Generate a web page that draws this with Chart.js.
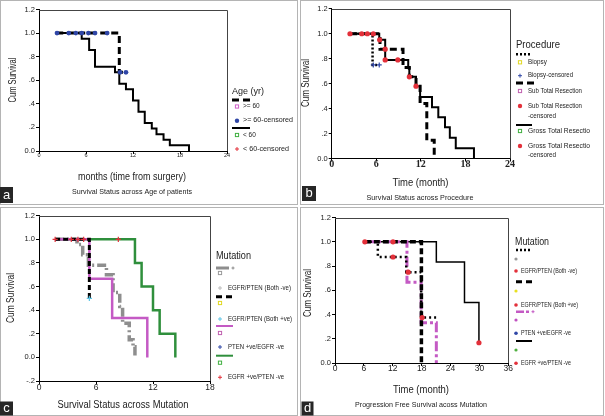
<!DOCTYPE html>
<html>
<head>
<meta charset="utf-8">
<script src="https://cdn.jsdelivr.net/npm/chart.js@4.4.1/dist/chart.umd.min.js"></script>
<style>
  body { margin: 0; background: #fff; width: 605px; height: 416px; position: relative; overflow: hidden; }
  canvas { position: absolute; }
  .frame { position: absolute; border: 1px solid #b4b4b4; box-sizing: border-box; }
</style>
</head>
<body>
<div class="frame" style="left:0;top:0;width:298px;height:205px"></div>
<div class="frame" style="left:300px;top:0;width:304px;height:205px"></div>
<div class="frame" style="left:0;top:207px;width:298px;height:209px"></div>
<div class="frame" style="left:300px;top:207px;width:304px;height:209px"></div>
<canvas id="panelA" width="300" height="206" style="left:0;top:0"></canvas>
<canvas id="panelB" width="305" height="206" style="left:300px;top:0"></canvas>
<canvas id="panelC" width="300" height="210" style="left:0;top:206px"></canvas>
<canvas id="panelD" width="305" height="210" style="left:300px;top:206px"></canvas>
<script>
// a: survival by age
const ageOldTime = [2.2, 10.25, 11.1];
const ageOldSurv = [1, 0.667, 0.667];
const ageOldCensTime = [2.3, 3.8, 4.7, 5.45, 6.3, 7.15, 8.7, 10.35, 11.1];
const ageOldCensSurv = [1, 1, 1, 1, 1, 1, 1, 0.667, 0.667];
const ageYoungTime = [2.2, 5.45, 6.4, 7.15, 9.7, 10.25, 11.1, 12.0, 12.7, 13.5, 14.4, 15.0, 15.9, 16.7, 19.15];
const ageYoungSurv = [1, 0.952, 0.857, 0.714, 0.667, 0.571, 0.524, 0.429, 0.333, 0.238, 0.19, 0.143, 0.095, 0.048, 0];
const ageLabels = ['>= 60', '>= 60-censored', '< 60', '< 60-censored'];

// b: survival by procedure
const biopsyTime = [2.5, 5.5, 6.4];
const biopsySurv = [1, 0.75, 0.75];
const biopsyCensTime = [5.6, 6.4];
const biopsyCensSurv = [0.75, 0.75];
const strTime = [2.5, 6.5, 9.6, 10.45, 11.35, 11.9, 12.8, 13.8];
const strSurv = [1, 0.876, 0.73, 0.655, 0.58, 0.44, 0.146, 0];
const gtrTime = [2.5, 6.4, 7.2, 10.3, 10.45, 11.35, 11.9, 13.5, 14.35, 15.25, 15.9, 16.7, 19.15];
const gtrSurv = [1, 0.951, 0.79, 0.728, 0.655, 0.58, 0.493, 0.41, 0.33, 0.25, 0.167, 0.083, 0];
const resCensTime = [2.46, 4.04, 4.8, 5.6, 6.45, 7.2, 7.2, 8.9, 10.45, 11.35];
const resCensSurv = [1, 1, 1, 1, 0.951, 0.876, 0.79, 0.79, 0.655, 0.58];
const procLabels = ['Biopsy', 'Biopsy-censored', 'Sub Total Resection', 'Sub Total Resection', '-censored',
                    'Gross Total Resectio', 'Gross Total Resectio', '-censored'];

// c: survival by mutation
const bothNegTime = [1.7, 4.0, 4.6, 5.2, 7.1, 7.8, 8.5, 8.8, 9.5, 9.9, 10.1];
const bothNegSurv = [1, 0.957, 0.87, 0.78, 0.70, 0.55, 0.43, 0.29, 0.15, 0.09, 0];
const bothPosTime = [1.7, 5.3];
const bothPosSurv = [1, 0.5];
const ptenTime = [1.7, 5.3, 7.7, 11.4];
const ptenSurv = [1, 0.667, 0.333, 0];
const egfrTime = [1.7, 10.1, 10.8, 12.0, 12.7, 14.35];
const egfrSurv = [1, 0.8, 0.6, 0.4, 0.2, 0];
const egfrCensTime = [1.7, 3.4, 4.1, 4.7, 8.35];
const egfrCensSurv = [1, 1, 1, 1, 1];
const mutLabels = ['EGFR/PTEN (Both -ve)', 'EGFR/PTEN (Both +ve)', 'PTEN +ve/EGFR -ve', 'EGFR +ve/PTEN -ve'];

// d: progression free survival by mutation
const pfsNegTime = [6.2, 8.9, 14.8, 17.9, 21.2];
const pfsNegSurv = [1, 0.875, 0.75, 0.375, 0.375];
const pfsPosTime = [6.2, 17.95];
const pfsPosSurv = [1, 0];
const pfsPtenTime = [6.2, 14.95, 17.9, 21.05];
const pfsPtenSurv = [1, 0.667, 0.333, 0];
const pfsEgfrTime = [6.2, 21.05, 26.9, 29.9];
const pfsEgfrSurv = [1, 0.833, 0.5, 0.167];
const pfsCensTime = [6.2, 12.05, 12.05, 15.2, 18.1, 29.9];
const pfsCensSurv = [1, 1, 0.875, 0.75, 0.375, 0.167];

const FONT = "'Liberation Sans', Arial, sans-serif";
const pink = '#c45ac4', green = '#2f8f3c', red = '#e3303a', blue = '#2f46a6';

function pts(times, surv) {
  return times.map((t, i) => ({ x: t, y: surv[i] }));
}

function stepLine(times, surv, color, width, dash) {
  return {
    data: pts(times, surv), borderColor: color, borderWidth: width, borderDash: dash || [],
    stepped: true, pointRadius: 0, fill: false, borderCapStyle: 'butt'
  };
}

function marks(times, surv, color, style, r) {
  return {
    type: 'scatter', data: pts(times, surv), showLine: false, pointStyle: style, pointRadius: r,
    backgroundColor: color, borderColor: color, borderWidth: style === 'cross' ? 1.2 : 0
  };
}

function survTick(v) {
  if (Math.abs(v) < 1e-9) return '0.0';
  const s = v.toFixed(1);
  return Math.abs(v) < 1 ? s.replace('0.', '.') : s;
}

function drawText(ctx, t) {
  ctx.save();
  ctx.font = (t.bold ? 'bold ' : '') + t.size + 'px ' + FONT;
  ctx.fillStyle = t.color || '#222';
  ctx.textBaseline = 'middle';
  ctx.textAlign = t.align || 'left';
  ctx.translate(t.x, t.y);
  if (t.rot) ctx.rotate(t.rot);
  if (t.w) ctx.scale(t.w / ctx.measureText(t.text).width, 1);
  ctx.fillText(t.text, 0, 0);
  ctx.restore();
}

function drawMark(ctx, m) {
  const r = m.r || 2;
  ctx.save();
  ctx.strokeStyle = m.color; ctx.fillStyle = m.color; ctx.lineWidth = 1;
  ctx.beginPath();
  if (m.shape === 'box') ctx.strokeRect(m.x - r, m.y - r, 2 * r, 2 * r);
  else if (m.shape === 'dot') { ctx.arc(m.x, m.y, r, 0, Math.PI * 2); ctx.fill(); }
  else { ctx.moveTo(m.x - r, m.y); ctx.lineTo(m.x + r, m.y); ctx.moveTo(m.x, m.y - r); ctx.lineTo(m.x, m.y + r); ctx.stroke(); }
  ctx.restore();
}

const decor = {
  id: 'decor',
  afterDraw(chart, args, o) {
    const ctx = chart.ctx, a = chart.chartArea;
    ctx.save();
    ctx.strokeStyle = '#444'; ctx.lineWidth = 1;
    ctx.beginPath();
    ctx.moveTo(a.left, Math.round(a.top) + 0.5);
    ctx.lineTo(Math.round(a.right) + 0.5, Math.round(a.top) + 0.5);
    ctx.lineTo(Math.round(a.right) + 0.5, a.bottom);
    ctx.stroke();
    (o.lines || []).forEach(l => {
      ctx.strokeStyle = l.color || '#000'; ctx.lineWidth = l.width; ctx.setLineDash(l.dash || []);
      ctx.beginPath(); ctx.moveTo(l.x1, l.y); ctx.lineTo(l.x2, l.y); ctx.stroke();
    });
    ctx.setLineDash([]);
    (o.marks || []).forEach(m => drawMark(ctx, m));
    (o.texts || []).forEach(t => drawText(ctx, t));
    if (o.tag) {
      ctx.fillStyle = '#262626';
      ctx.fillRect(o.tag.x, o.tag.y, o.tag.w, o.tag.h);
      drawText(ctx, { text: o.tag.text, x: o.tag.x + o.tag.w / 2, y: o.tag.y + o.tag.h / 2, size: 13, align: 'center', color: '#fff' });
    }
    ctx.restore();
  }
};

function kmChart(id, datasets, xMax, yMin, box, decorOpts) {
  return new Chart(document.getElementById(id), {
    type: 'line',
    data: { datasets: datasets },
    options: {
      responsive: false, animation: false, devicePixelRatio: 1,
      layout: { padding: { left: 0, top: box.top, right: box.right, bottom: 0 } },
      plugins: { legend: { display: false }, tooltip: { enabled: false }, decor: decorOpts },
      scales: {
        x: {
          type: 'linear', min: 0, max: xMax,
          afterFit: s => { s.height = box.xh; },
          grid: { drawOnChartArea: false, tickLength: 3, color: '#000' },
          border: { color: '#000' },
          ticks: { stepSize: 6, autoSkip: false, maxRotation: 0, color: '#222', padding: box.xpad,
                   font: Object.assign({ family: FONT, lineHeight: 1 }, box.xfont) }
        },
        y: {
          min: yMin, max: 1.2,
          afterFit: s => { s.width = box.yw; },
          grid: { drawOnChartArea: false, tickLength: 3, color: '#000' },
          border: { color: '#000' },
          ticks: { stepSize: 0.2, callback: survTick, color: '#222', padding: 1,
                   font: { family: FONT, size: 7.5, lineHeight: 1 } }
        }
      }
    },
    plugins: [decor]
  });
}

const rot = -Math.PI / 2;

// panel a
kmChart('panelA', [
  marks(ageOldCensTime, ageOldCensSurv, blue, 'circle', 2.4),
  stepLine(ageOldTime, ageOldSurv, '#000', 3, [7, 4]),
  stepLine(ageYoungTime, ageYoungSurv, '#000', 2)
], 24, 0, { top: 9.5, right: 73, yw: 39, xh: 55, xpad: -1, xfont: { size: 5.5 } }, {
  lines: [
    { x1: 232, x2: 251, y: 100, width: 3, dash: [7, 4] },
    { x1: 232, x2: 250, y: 128, width: 2 }
  ],
  marks: [
    { shape: 'box', color: '#d060c8', x: 237, y: 106.5, r: 1.6 },
    { shape: 'dot', color: blue, x: 237, y: 120.7, r: 2.2 },
    { shape: 'box', color: '#40b040', x: 237, y: 135, r: 1.6 },
    { shape: 'plus', color: red, x: 237, y: 149, r: 2 }
  ],
  texts: [
    { text: 'Cum Survival', x: 13.5, y: 80, size: 10, rot: rot, align: 'center', w: 45 },
    { text: 'months (time from surgery)', x: 132, y: 177, size: 10.5, align: 'center', w: 108 },
    { text: 'Survival Status across Age of patients', x: 132, y: 192, size: 7, align: 'center', w: 120 },
    { text: 'Age (yr)', x: 232, y: 91, size: 9.5, w: 32 },
    { text: ageLabels[0], x: 243, y: 106.5, size: 6.5 },
    { text: ageLabels[1], x: 243, y: 120.7, size: 6.5, w: 50 },
    { text: ageLabels[2], x: 243, y: 135, size: 6.5 },
    { text: ageLabels[3], x: 243, y: 149, size: 6.5, w: 46 }
  ],
  tag: { text: 'a', x: 0, y: 187, w: 13, h: 16 }
});

// panel b
kmChart('panelB', [
  marks(resCensTime, resCensSurv, red, 'circle', 2.6),
  marks(biopsyCensTime, biopsyCensSurv, blue, 'cross', 2.5),
  stepLine(biopsyTime, biopsySurv, '#000', 2.5, [2, 2]),
  stepLine(strTime, strSurv, '#000', 3, [7, 4]),
  stepLine(gtrTime, gtrSurv, '#000', 2)
], 24, 0, { top: 8.8, right: 95, yw: 31.7, xh: 47.5, xpad: -2, xfont: { size: 10, weight: 'bold', family: "'Liberation Serif', serif" } }, {
  lines: [
    { x1: 216, x2: 232, y: 54.3, width: 2.5, dash: [2, 2] },
    { x1: 216, x2: 234, y: 83, width: 3, dash: [7, 4] },
    { x1: 216, x2: 232, y: 125, width: 2 }
  ],
  marks: [
    { shape: 'box', color: '#e0d820', x: 220, y: 62.3, r: 1.6 },
    { shape: 'plus', color: blue, x: 220, y: 75.7, r: 2 },
    { shape: 'box', color: '#c060b0', x: 220, y: 91, r: 1.6 },
    { shape: 'dot', color: red, x: 220, y: 106, r: 2.2 },
    { shape: 'box', color: '#40b040', x: 220, y: 131, r: 1.6 },
    { shape: 'dot', color: red, x: 220, y: 146, r: 2.2 }
  ],
  texts: [
    { text: 'Cum Survival', x: 6, y: 83, size: 10, rot: rot, align: 'center', w: 48 },
    { text: 'Time (month)', x: 120.5, y: 183.3, size: 10.5, align: 'center', w: 56 },
    { text: 'Survival Status across Procedure', x: 120, y: 198.3, size: 7, align: 'center', w: 107 },
    { text: 'Procedure', x: 216, y: 45, size: 10, w: 44 },
    { text: procLabels[0], x: 228, y: 62.3, size: 6.3 },
    { text: procLabels[1], x: 228, y: 75.7, size: 6.3, w: 45 },
    { text: procLabels[2], x: 228, y: 91, size: 6.3, w: 54 },
    { text: procLabels[3], x: 228, y: 106, size: 6.3, w: 54 },
    { text: procLabels[4], x: 228, y: 116, size: 6.3 },
    { text: procLabels[5], x: 228, y: 131, size: 6.3, w: 62 },
    { text: procLabels[6], x: 228, y: 146, size: 6.3, w: 62 },
    { text: procLabels[7], x: 228, y: 155.5, size: 6.3 }
  ],
  tag: { text: 'b', x: 2, y: 186, w: 14, h: 15 }
});

// panel c
kmChart('panelC', [
  marks(egfrCensTime, egfrCensSurv, red, 'cross', 2.6),
  marks([5.3], [0.5], '#5cc4e6', 'cross', 2.6),
  stepLine(bothPosTime, bothPosSurv, '#000', 3, [5, 3]),
  stepLine(ptenTime, ptenSurv, pink, 2.5),
  stepLine(bothNegTime, bothNegSurv, '#8e8e8e', 3.5, [9, 3, 2, 3]),
  stepLine(egfrTime, egfrSurv, green, 2.5)
], 18, -0.2, { top: 9.7, right: 90, yw: 39, xh: 35, xpad: -0.5, xfont: { size: 8.5 } }, {
  lines: [
    { x1: 216, x2: 229, y: 62, width: 3, color: '#8e8e8e' },
    { x1: 216, x2: 234, y: 90.7, width: 3, dash: [6, 4] },
    { x1: 216, x2: 233, y: 120, width: 2, color: pink },
    { x1: 216, x2: 233, y: 149.7, width: 2, color: green }
  ],
  marks: [
    { shape: 'plus', color: '#888', x: 233, y: 62, r: 1.5 },
    { shape: 'box', color: '#999', x: 220, y: 67, r: 1.6 },
    { shape: 'plus', color: '#bbb', x: 220, y: 82, r: 2 },
    { shape: 'box', color: '#e0d820', x: 220, y: 97, r: 1.6 },
    { shape: 'plus', color: '#5cc4e6', x: 220, y: 113, r: 2 },
    { shape: 'box', color: '#c060b0', x: 220, y: 127, r: 1.6 },
    { shape: 'plus', color: blue, x: 220, y: 141, r: 2 },
    { shape: 'box', color: '#40b040', x: 220, y: 156.7, r: 1.6 },
    { shape: 'plus', color: red, x: 220, y: 171.3, r: 2 }
  ],
  texts: [
    { text: 'Cum Survival', x: 11, y: 92, size: 10, rot: rot, align: 'center', w: 50 },
    { text: 'Survival Status across Mutation', x: 123, y: 199, size: 10, align: 'center', w: 131 },
    { text: 'Mutation', x: 216, y: 50.7, size: 10, w: 35 },
    { text: mutLabels[0], x: 228, y: 82, size: 6.3, w: 63 },
    { text: mutLabels[1], x: 228, y: 113, size: 6.3, w: 64 },
    { text: mutLabels[2], x: 228, y: 141, size: 6.3, w: 56 },
    { text: mutLabels[3], x: 228, y: 171.3, size: 6.3, w: 56 }
  ],
  tag: { text: 'c', x: 0, y: 195.5, w: 13, h: 14 }
});

// panel d
kmChart('panelD', [
  marks(pfsCensTime, pfsCensSurv, red, 'circle', 2.6),
  stepLine(pfsNegTime, pfsNegSurv, '#000', 2.5, [2, 3]),
  stepLine(pfsPosTime, pfsPosSurv, '#000', 3.5, [6, 3]),
  stepLine(pfsPtenTime, pfsPtenSurv, pink, 3, [10, 3, 3, 3]),
  stepLine(pfsEgfrTime, pfsEgfrSurv, '#000', 1.5)
], 36, 0, { top: 11.6, right: 96.7, yw: 35, xh: 53, xpad: -2, xfont: { size: 8.5 } }, {
  lines: [
    { x1: 216, x2: 232, y: 44, width: 2.5, dash: [2, 2] },
    { x1: 216, x2: 234, y: 75.7, width: 3, dash: [6, 4] },
    { x1: 216, x2: 229, y: 105.7, width: 2.5, color: pink, dash: [8, 2] },
    { x1: 216, x2: 232, y: 135, width: 2 }
  ],
  marks: [
    { shape: 'plus', color: pink, x: 233, y: 105.7, r: 1.5 },
    { shape: 'dot', color: '#999', x: 216, y: 53, r: 1.6 },
    { shape: 'dot', color: red, x: 216, y: 65, r: 1.8 },
    { shape: 'dot', color: '#e8e020', x: 216, y: 85, r: 1.6 },
    { shape: 'dot', color: red, x: 216, y: 99, r: 1.8 },
    { shape: 'dot', color: '#c050c0', x: 216, y: 114, r: 1.6 },
    { shape: 'dot', color: blue, x: 216, y: 127.3, r: 1.8 },
    { shape: 'dot', color: '#50b040', x: 216, y: 144, r: 1.6 },
    { shape: 'dot', color: red, x: 216, y: 157.3, r: 1.8 }
  ],
  texts: [
    { text: 'Cum Survival', x: 8, y: 87, size: 10, rot: rot, align: 'center', w: 48 },
    { text: 'Time (month)', x: 121, y: 184, size: 10.5, align: 'center', w: 56 },
    { text: 'Progression Free Survival acoss Mutation', x: 121, y: 199, size: 7, align: 'center', w: 132 },
    { text: 'Mutation', x: 215, y: 36.3, size: 10, w: 34 },
    { text: mutLabels[0], x: 221, y: 65, size: 6.3, w: 56 },
    { text: mutLabels[1], x: 221, y: 99, size: 6.3, w: 57 },
    { text: mutLabels[2], x: 221, y: 127.3, size: 6.3, w: 50 },
    { text: mutLabels[3], x: 221, y: 157.3, size: 6.3, w: 50 }
  ],
  tag: { text: 'd', x: 1.5, y: 195.5, w: 12, h: 14 }
});
</script>
</body>
</html>
